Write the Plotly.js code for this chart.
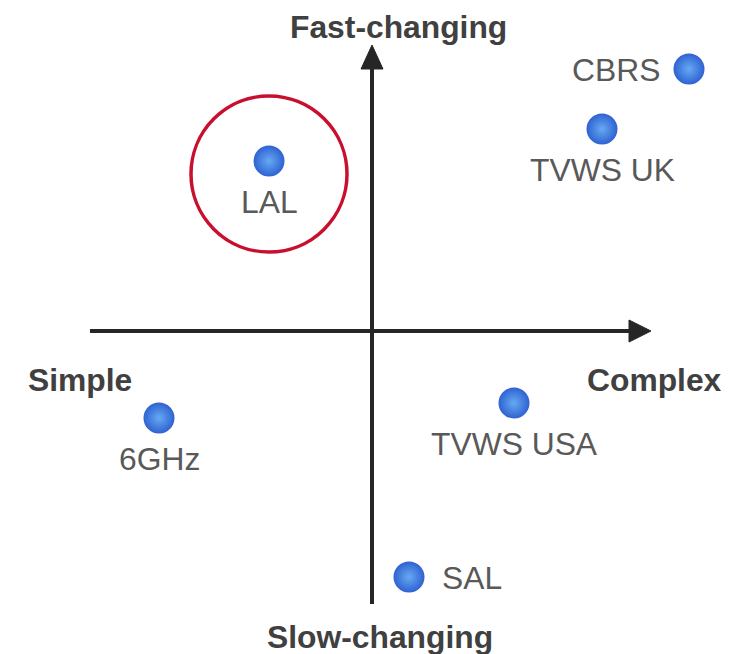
<!DOCTYPE html>
<html><head><meta charset="utf-8">
<script src="https://cdn.plot.ly/plotly-3.0.1.min.js"></script>
<style>html,body{margin:0;padding:0;background:#fff}#chart{width:749px;height:654px}</style>
</head><body><div id="chart"></div>
<script>
// Quadrant positions (x: simple -> complex, y: slow -> fast changing)
const names = ["CBRS", "TVWS UK", "LAL", "6GHz", "TVWS USA", "SAL"];
const xVals = [3.17, 2.30, -1.03, -2.13, 1.42, 0.37];
const yVals = [2.62, 2.02, 1.70, -0.87, -0.72, -2.46];
const labelSide = ["left", "below", "below", "below", "below", "right"];
const axisLabels = {top: "Fast-changing", bottom: "Slow-changing", left: "Simple", right: "Complex"};
const highlight = "LAL";

const hi = names.indexOf(highlight);
const hx = xVals[hi], hy = yVals[hi] - 0.13, r = 0.78;
const ink = "#262626";
const xr = [-3.72, 3.77], yr = [-3.23, 3.31];
const family = "Liberation Sans, Arial, sans-serif";

const trace = {
  type: "scatter", mode: "markers",
  x: xVals, y: yVals,
  marker: {size: 31, color: "#2F62D2", gradient: {type: "radial", color: "#66AAF2"}, line: {width: 0}},
  hoverinfo: "skip", cliponaxis: false
};

const shapes = [
  {type: "line", xref: "x", yref: "y", x0: -2.82, x1: 2.62, y0: 0, y1: 0, line: {color: ink, width: 4}},
  {type: "path", xref: "x", yref: "y", path: "M 2.57 0.11 L 2.79 0 L 2.57 -0.11 Z", fillcolor: ink, line: {color: ink, width: 1}},
  {type: "line", xref: "x", yref: "y", x0: 0, x1: 0, y0: -2.73, y1: 2.68, line: {color: ink, width: 4}},
  {type: "path", xref: "x", yref: "y", path: "M -0.11 2.62 L 0 2.86 L 0.11 2.62 Z", fillcolor: ink, line: {color: ink, width: 1}},
  {type: "circle", xref: "x", yref: "y", x0: hx - r, x1: hx + r, y0: hy - r, y1: hy + r, line: {color: "#C8102E", width: 3.5}}
];

const labelFont = {family: family, size: 31.8, color: "#595959"};
const pointLabels = names.map((n, i) => {
  const side = labelSide[i];
  const a = {text: n, x: xVals[i], y: yVals[i], xref: "x", yref: "y", showarrow: false, font: labelFont};
  if (side === "below") { a.xanchor = "center"; a.yanchor = "middle"; a.yshift = -41; }
  else if (side === "left") { a.xanchor = "right"; a.yanchor = "middle"; a.xshift = -27; a.yshift = -1; }
  else { a.xanchor = "left"; a.yanchor = "middle"; a.xshift = 31; a.yshift = -1; }
  return a;
});

const bold = {family: family, size: 31.8, color: "#404040", weight: "bold"};
const annotations = pointLabels.concat([
  {text: "<b>" + axisLabels.top + "</b>", x: 0.26, y: 3.04, xref: "x", yref: "y", showarrow: false, font: bold},
  {text: "<b>" + axisLabels.bottom + "</b>", x: 0.08, y: -3.06, xref: "x", yref: "y", showarrow: false, font: bold},
  {text: "<b>" + axisLabels.left + "</b>", x: -2.92, y: -0.49, xref: "x", yref: "y", showarrow: false, font: bold},
  {text: "<b>" + axisLabels.right + "</b>", x: 2.825, y: -0.49, xref: "x", yref: "y", showarrow: false, font: bold}
]);

const layout = {
  width: 749, height: 654, margin: {l: 0, r: 0, t: 0, b: 0},
  paper_bgcolor: "#fff", plot_bgcolor: "#fff", showlegend: false,
  xaxis: {range: xr, visible: false, fixedrange: true},
  yaxis: {range: yr, visible: false, fixedrange: true},
  shapes: shapes, annotations: annotations
};
Plotly.newPlot("chart", [trace], layout, {staticPlot: true, displayModeBar: false});
</script></body></html>
